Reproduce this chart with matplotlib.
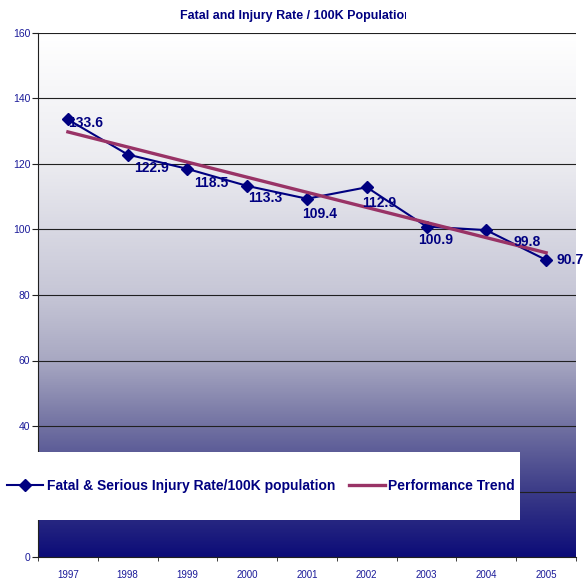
import numpy as np
import matplotlib
matplotlib.use('Agg')
import matplotlib.pyplot as plt
from matplotlib.colors import LinearSegmentedColormap
from matplotlib.lines import Line2D
from matplotlib.patches import Rectangle
from matplotlib.transforms import Bbox

# ==== データ ====
years = ['1997', '1998', '1999', '2000', '2001', '2002', '2003', '2004', '2005']
rate = [133.6, 122.9, 118.5, 113.3, 109.4, 112.9, 100.9, 99.8, 90.7]
trend_ends = [129.8, 92.9]          # Performance Trend (1997 と 2005 の値)
y_ticks = [0, 20, 40, 60, 80, 100, 120, 140, 160]

# ==== スタイル ====
NAVY = '#000080'
PLUM = '#993366'
plt.rcParams['font.family'] = ['Liberation Sans', 'DejaVu Sans']

# ラベル位置のずれ (pixel, x 右 / y 上)
label_offsets = [(18, -4), (24, -13), (24, -14), (18, -12), (13, -15),
                 (12, -16), (9, -13), (41, -12), (24, 0)]

W, H = 587, 583
fig = plt.figure(figsize=(W / 100, H / 100), dpi=100)
ax = fig.add_axes([38 / W, 1 - 557 / H, (576 - 38) / W, (557 - 33) / H])

x = np.arange(len(years))

# 背景グラデーション
grad_cmap = LinearSegmentedColormap.from_list('bg', [
    (0.0, '#0c0c78'), (0.125, '#3c3c88'), (0.25, '#7272a2'),
    (0.375, '#a8a8c2'), (0.5, '#c6c6d6'), (0.75, '#ebebf0'), (1.0, '#ffffff')])
ax.imshow(np.linspace(0, 1, 256).reshape(-1, 1), cmap=grad_cmap, origin='lower',
          extent=[-0.5, len(years) - 0.5, 0, 160], aspect='auto', zorder=0)

for t in y_ticks:
    ax.axhline(t, color='#202020', lw=0.8, zorder=1)

ax.plot(x, rate, color=NAVY, lw=1.5, marker='D', markersize=6, zorder=3)
ax.plot([x[0], x[-1]], trend_ends, color=PLUM, lw=2.4, zorder=4)

for xi, v, (dx, dy) in zip(x, rate, label_offsets):
    ax.annotate(f'{v}', (xi, v), xytext=(dx, dy), textcoords='offset pixels',
                ha='center', va='center', fontsize=10, fontweight='bold',
                color=NAVY, zorder=5, annotation_clip=False)

ax.set_xlim(-0.5, len(years) - 0.5)
ax.set_ylim(0, 160)
ax.set_yticks(y_ticks)
ax.set_yticklabels([str(t) for t in y_ticks], fontsize=7.5, color='#1a1a99')
ax.set_xticks(x)
ax.set_xticklabels(years, fontsize=7, color='#1a1a99')
ax.set_xticks(np.arange(-0.5, len(years)), minor=True)
ax.tick_params(axis='x', which='major', length=0, pad=9)
ax.tick_params(axis='x', which='minor', length=3, direction='out', color='#202020')
ax.tick_params(axis='y', length=4, direction='out', color='#202020', pad=1.5)
for s in ['top', 'right']:
    ax.spines[s].set_visible(False)
ax.spines['left'].set_color('#202020')
ax.spines['bottom'].set_color('#202020')

# タイトル (右端が切れている)
title = fig.text(180 / W, 1 - 16 / H, 'Fatal and Injury Rate / 100K Population',
                 ha='left', va='center', fontsize=9, fontweight='bold', color=NAVY)
title.set_clip_box(Bbox.from_extents(0, 0, 406, H))
title.set_clip_on(True)

# 凡例 (白い箱)
fig.patches.append(Rectangle((0, 1 - 520 / H), 520 / W, 68 / H, transform=fig.transFigure,
                             facecolor='white', edgecolor='none', zorder=6))
handles = [Line2D([], [], color=NAVY, lw=1.5, marker='D', markersize=6),
           Line2D([], [], color=PLUM, lw=2.4)]
leg = fig.legend(handles, ['Fatal & Serious Injury Rate/100K population', 'Performance Trend'],
                 loc='center left', bbox_to_anchor=(7 / W, 1 - 486 / H), ncol=2,
                 frameon=False, handlelength=2.6, handletextpad=0.25, columnspacing=1.0,
                 borderaxespad=0, borderpad=0)
leg.set_zorder(7)
for t in leg.get_texts():
    t.set_fontsize(10)
    t.set_fontweight('bold')
    t.set_color(NAVY)

fig.savefig('out.png', dpi=100)
